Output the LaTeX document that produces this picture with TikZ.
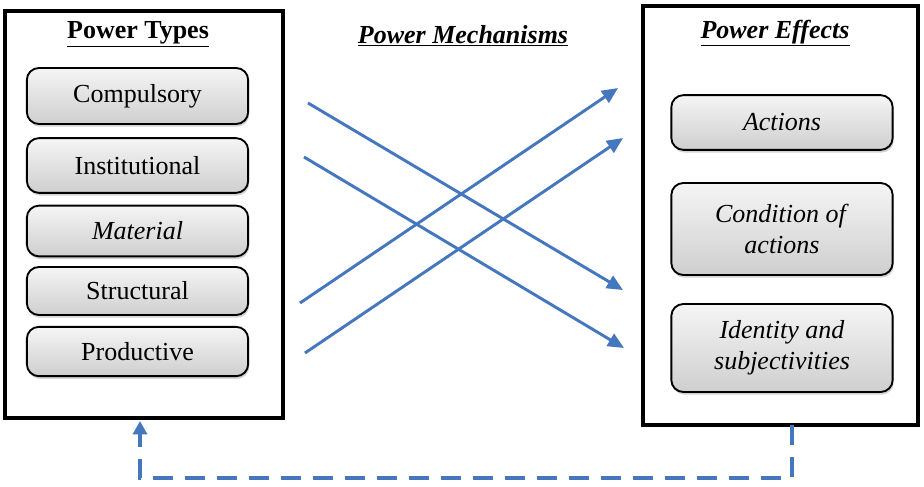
\documentclass[tikz,border=0pt]{standalone}
\usepackage{fontspec}
\setmainfont{Liberation Serif}
\usetikzlibrary{arrows.meta, shadows}
\definecolor{mechblue}{RGB}{68,119,190}

\begin{document}
\begin{tikzpicture}[x=0.75pt, y=-0.75pt,
  font=\fontsize{19.5}{23.4}\selectfont,
  frame/.style={draw, line width=2.8pt, minimum width=#1, inner sep=0pt},
  item/.style={draw, line width=1.4pt, rounded corners=9pt, top color=gray!8, bottom color=gray!38,
    drop shadow={shadow xshift=0.8pt, shadow yshift=-2pt, opacity=0.35},
    minimum width=166pt, align=center},
  mech/.style={mechblue, line width=2.2pt, -{Triangle[length=12pt, width=10.5pt]}},
  back/.style={mechblue, line width=3pt, dash pattern=on 15pt off 9pt, -{Triangle[length=10pt, width=10.5pt]}}]
\useasboundingbox (0,0) rectangle (924,486);

% left and right frames
\node[frame=208.5pt, minimum height=305pt] (types) at (144,214.5) {};
\node[frame=206pt, minimum height=314pt] (effects) at (780.5,215.5) {};

\node (typestitle) at (138,34) {\textbf{\underline{Power Types}}};
\node (mechtitle) at (463,36) {\textbf{\textit{\underline{Power Mechanisms}}}};
\node (effectstitle) at (775,33) {\textbf{\textit{\underline{Power Effects}}}};

% power types
\node[item, minimum height=42pt] (compulsory) at (137.5,96) {Compulsory};
\node[item, minimum height=41pt] (institutional) at (137.5,165.5) {Institutional};
\node[item, minimum height=38pt] (material) at (137.5,231) {\textit{Material}};
\node[item, minimum height=36pt] (structural) at (137.5,291) {Structural};
\node[item, minimum height=37pt] (productive) at (137.5,351.5) {Productive};

% power effects
\node[item, minimum height=41pt] (actions) at (782,122.5) {\textit{Actions}};
\node[item, minimum height=69pt] (condition) at (782,229) {\textit{Condition of}\\\textit{actions}};
\node[item, minimum height=66pt] (identity) at (782,348) {\textit{Identity and}\\\textit{subjectivities}};

% mechanisms
\coordinate (a1) at (308,103);
\coordinate (b1) at (623,290);
\coordinate (a2) at (304,157);
\coordinate (b2) at (624,348);
\coordinate (a3) at (300,303);
\coordinate (b3) at (618,88);
\coordinate (a4) at (305,353);
\coordinate (b4) at (623,138);
\draw[mech] (a1) -- (b1);
\draw[mech] (a2) -- (b2);
\draw[mech] (a3) -- (b3);
\draw[mech] (a4) -- (b4);

% feedback
\coordinate (fb) at (792,425);
\coordinate (ft) at (140,421);
\draw[back] (fb) -- (792,478) -- (140,478) -- (ft);
\end{tikzpicture}
\end{document}
